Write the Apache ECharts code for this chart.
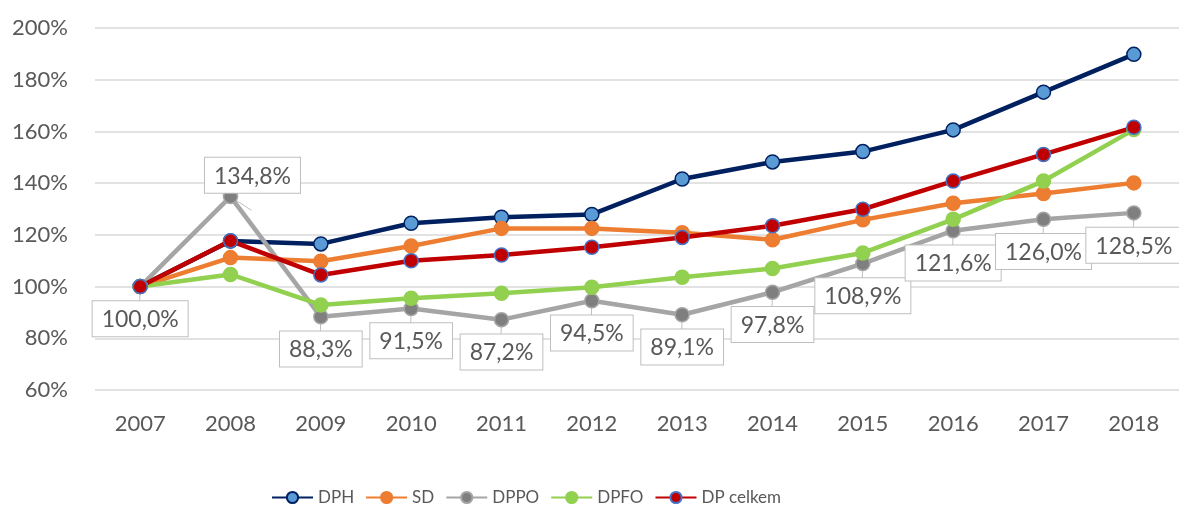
<!DOCTYPE html>
<html>
<head>
<meta charset="utf-8">
<script src="https://cdn.jsdelivr.net/npm/echarts@6/dist/echarts.min.js"></script>
<style>
  html, body { margin: 0; padding: 0; background: #fff; }
  #main { width: 1179px; height: 508px; }
</style>
</head>
<body>
<div id="main"></div>
<script>
// data
var years = ['2007', '2008', '2009', '2010', '2011', '2012', '2013', '2014', '2015', '2016', '2017', '2018'];
var dph = [100, 117.6, 116.5, 124.5, 126.8, 127.9, 141.6, 148.2, 152.2, 160.6, 175.2, 189.8];
var sd = [100, 111.2, 109.8, 115.7, 122.5, 122.5, 120.8, 118.1, 125.8, 132.2, 136.0, 140.1];
var dppo = [100.0, 134.8, 88.3, 91.5, 87.2, 94.5, 89.1, 97.8, 108.9, 121.6, 126.0, 128.5];
var dpfo = [100, 104.7, 92.9, 95.5, 97.4, 99.7, 103.6, 107.0, 113.0, 126.0, 140.8, 160.7];
var dpCelkem = [100, 117.7, 104.5, 110.0, 112.2, 115.2, 119.0, 123.5, 129.9, 140.8, 151.1, 161.6];
var yTicks = { min: 60, max: 200, interval: 20 };

var fontFam = 'Lato, "Noto Sans", sans-serif';

function lineSeries(name, data, lineColor, fill, border) {
    return {
        name: name,
        type: 'line',
        data: data,
        symbol: 'circle',
        symbolSize: 14,
        lineStyle: { color: lineColor, width: 4.5 },
        itemStyle: { color: fill, borderColor: border, borderWidth: 1.5 },
        emphasis: { disabled: true }
    };
}

// DPPO data with callout labels; 2008 label sits above the point
var dppoData = dppo.map(function (v, i) {
    if (i === 1) {
        return { value: v, label: { position: 'top', distance: 0, offset: [22, 4] } };
    }
    return v;
});

var dppoSeries = lineSeries('DPPO', dppoData, '#A5A5A5', '#7F7F7F', '#A5A5A5');
dppoSeries.label = {
    show: true,
    position: 'bottom',
    distance: 7,
    formatter: function (p) { return p.value.toFixed(1).replace('.', ',') + '%'; },
    color: '#595959',
    fontSize: 23,
    fontFamily: fontFam,
    backgroundColor: '#fff',
    borderColor: '#BFBFBF',
    borderWidth: 1,
    padding: [7, 9, 5, 9]
};
dppoSeries.labelLine = { show: true, lineStyle: { color: '#BFBFBF', width: 1 } };

var myChart = echarts.init(document.getElementById('main'));
var option = {
    animation: false,
    backgroundColor: '#fff',
    grid: { left: 95, right: -3, top: 28, bottom: 118 },
    legend: {
        bottom: -3,
        left: 266,
        itemWidth: 41,
        itemHeight: 14,
        itemGap: 11,
        textStyle: { color: '#595959', fontSize: 17, fontFamily: fontFam },
        data: ['DPH', 'SD', 'DPPO', 'DPFO', 'DP celkem']
    },
    xAxis: {
        type: 'category',
        data: years,
        boundaryGap: true,
        axisLine: { show: false },
        axisTick: { show: false },
        axisLabel: { color: '#595959', fontSize: 22, fontFamily: fontFam, margin: 23 }
    },
    yAxis: {
        type: 'value',
        min: yTicks.min,
        max: yTicks.max,
        interval: yTicks.interval,
        axisLine: { show: false },
        axisTick: { show: false },
        splitLine: { lineStyle: { color: '#D9D9D9', width: 1.5 } },
        axisLabel: { color: '#595959', fontSize: 22, fontFamily: fontFam, margin: 27, formatter: '{value}%' }
    },
    series: [
        lineSeries('DPH', dph, '#002060', '#5B9BD5', '#002060'),
        lineSeries('SD', sd, '#ED7D31', '#ED7D31', '#ED7D31'),
        dppoSeries,
        lineSeries('DPFO', dpfo, '#92D050', '#92D050', '#92D050'),
        lineSeries('DP celkem', dpCelkem, '#C00000', '#C00000', '#4472C4')
    ]
};
myChart.setOption(option);
</script>
</body>
</html>
